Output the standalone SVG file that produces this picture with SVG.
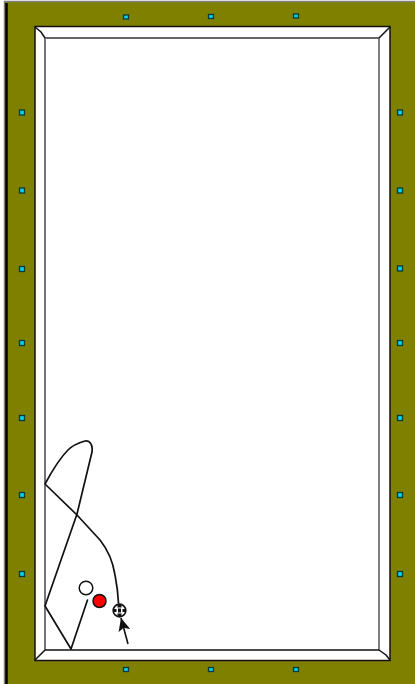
<svg xmlns="http://www.w3.org/2000/svg" width="415" height="684" viewBox="0 0 415 684">
<defs>
<style>
.d{fill:#00d4e8;stroke:#0a3a3a;stroke-width:1.300}
.trk{fill:none;stroke:#111;stroke-width:1.700;stroke-linejoin:round;stroke-linecap:round}
.bev{fill:none;stroke:#111;stroke-width:1.500}
</style>
<marker id="ah" markerUnits="userSpaceOnUse" markerWidth="14" markerHeight="12" refX="13" refY="6" orient="auto"><path d="M0 0L13 6L0 12L3 6Z" fill="#111"/></marker>
</defs>
<rect width="415" height="684" fill="#fff"/>
<g id="table">
<rect x="5" y="2" width="410" height="682" fill="#808000"/>
<path d="M4.500 684V1.500H415" fill="none" stroke="#808080" stroke-width="1.500"/>
<path d="M6.500 684V3" fill="none" stroke="#000" stroke-width="2.500"/>
<rect x="35" y="26.500" width="355" height="634" fill="#fff" stroke="#111" stroke-width="1.500"/>
<rect x="45" y="38" width="334" height="612" fill="#fff"/>
<path d="M45 650V38H379" fill="none" stroke="#666" stroke-width="1.800"/>
<path d="M379 38V650" fill="none" stroke="#555" stroke-width="1.500"/>
<path d="M45 650H379" fill="none" stroke="#111" stroke-width="1.500"/>
<path class="bev" d="M35 27L41 32L45 38M390 27L379 38M35 660L45 650M379 650L386 655L390 660"/>
</g>
<g id="diamonds">
<rect class="d" x="123.500" y="15" width="5" height="4"/>
<rect class="d" x="208.500" y="14.500" width="5" height="4"/>
<rect class="d" x="293.500" y="14" width="5" height="4"/>
<rect class="d" x="123.500" y="667.500" width="5" height="4"/>
<rect class="d" x="208.500" y="667.500" width="5" height="4"/>
<rect class="d" x="293.500" y="667.500" width="5" height="4"/>
<rect class="d" x="19.500" y="110" width="5" height="5"/>
<rect class="d" x="19.500" y="188" width="5" height="5"/>
<rect class="d" x="19.500" y="266.500" width="5" height="5"/>
<rect class="d" x="19.500" y="340.500" width="5" height="5"/>
<rect class="d" x="19.500" y="415.500" width="5" height="5"/>
<rect class="d" x="19.500" y="492.500" width="5" height="5"/>
<rect class="d" x="19.500" y="571.500" width="5" height="5"/>
<rect class="d" x="397.500" y="110" width="5" height="5"/>
<rect class="d" x="397.500" y="188" width="5" height="5"/>
<rect class="d" x="397.500" y="266" width="5" height="5"/>
<rect class="d" x="397.500" y="340.500" width="5" height="5"/>
<rect class="d" x="397.500" y="415.500" width="5" height="5"/>
<rect class="d" x="397.500" y="492.500" width="5" height="5"/>
<rect class="d" x="397.500" y="571.500" width="5" height="5"/>
</g>
<g id="connectors">
<path class="trk" d="M87.500 600L71 649L45 606L77 514L92 452C93 445 90 440 85 441C78 443 73 445 68 450C60 458 52 471 45 484L77 515L100 540C108 550 113 562 115 575C117 585 118 594 118.500 603"/>
<path d="M128 644L121 618" fill="none" stroke="#111" stroke-width="1.600" marker-end="url(#ah)"/>
</g>
<g id="ball-white"><circle cx="86" cy="588" r="6.800" fill="#fff" stroke="#111" stroke-width="1.500"/></g>
<g id="ball-red"><circle cx="99.500" cy="601" r="6.500" fill="#f00" stroke="#111" stroke-width="1.500"/></g>
<g id="ball-checker">
<circle cx="119.500" cy="610.500" r="6.300" fill="#fff" stroke="#111" stroke-width="1.700"/>
<path d="M117.500 604.500h4v3h-4zM113.500 609h3v3h-3zM118 608.500h3v4h-3zM122.500 609h3v3h-3zM117.500 613.500h4v3h-4z" fill="#111"/>
</g>
</svg>
